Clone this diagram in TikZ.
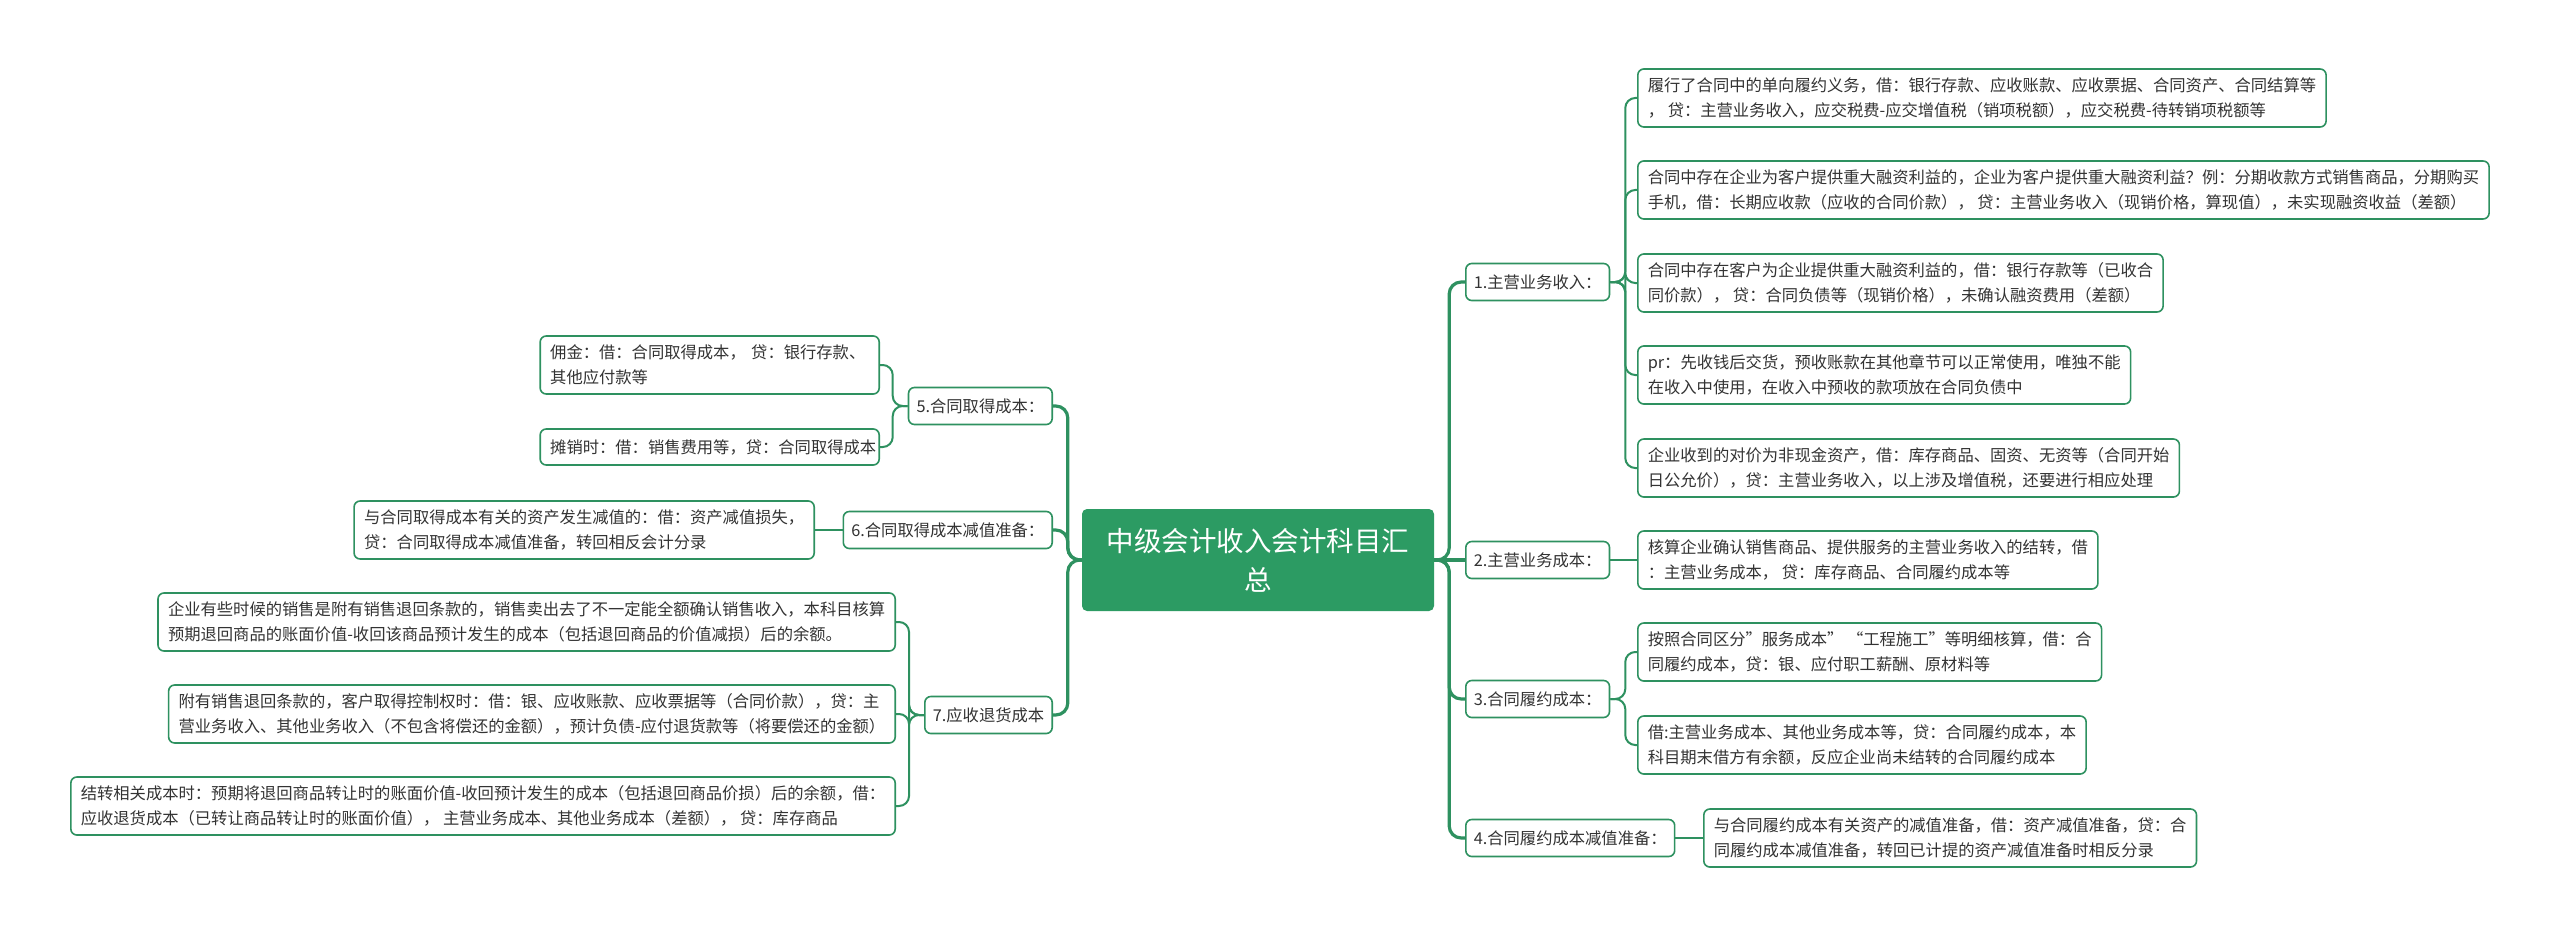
\documentclass[tikz,border=0pt]{standalone}
\usepackage{fontspec}
\setmainfont{Noto Sans CJK SC}
\usepackage{xcolor}
\definecolor{ckGreen}{HTML}{2E9160}
\definecolor{ckRoot}{HTML}{2C9B63}
\definecolor{ckInk}{HTML}{333333}

\begin{document}
\begin{tikzpicture}[x=1pt,y=-1pt,
  every node/.style={font=\fontsize{16.3}{24.5}\selectfont,text=ckInk},
  root/.style={fill=ckRoot,rounded corners=5pt,text=white,
    font=\fontsize{27.5}{39}\selectfont,align=center,
    minimum width=352pt,minimum height=102pt},
  topic/.style={draw=ckGreen,line width=1.6pt,rounded corners=6pt,fill=white,
    inner xsep=8pt,inner ysep=4pt,minimum height=37pt},
  leaf/.style={topic,align=left,inner xsep=10pt,minimum height=58pt},
  trunk/.style={draw=ckGreen,line width=3.2pt,rounded corners=12pt},
  twig/.style={draw=ckGreen,line width=2pt,rounded corners=10pt}]
  \fill[white] (0,0) rectangle (2560,936);
  \useasboundingbox (0,0) rectangle (2560,936);

  \node[root] (root) at (1258,560) {中级会计收入会计科目汇\\总};

  \node[topic,anchor=west] (t1) at (1465,282) {1.主营业务收入：};
  \node[topic,anchor=west] (t2) at (1465,560) {2.主营业务成本：};
  \node[topic,anchor=west] (t3) at (1465,699) {3.合同履约成本：};
  \node[topic,anchor=west] (t4) at (1465,838) {4.合同履约成本减值准备：};
  \node[topic,anchor=east] (t5) at (1053,406) {5.合同取得成本：};
  \node[topic,anchor=east] (t6) at (1053,530) {6.合同取得成本减值准备：};
  \node[topic,anchor=east] (t7) at (1053,715) {7.应收退货成本};

  \node[leaf,anchor=west] (r1a) at (1637,98)
    {履行了合同中的单向履约义务，借：银行存款、应收账款、应收票据、合同资产、合同结算等\\
     ， 贷：主营业务收入，应交税费-应交增值税（销项税额），应交税费-待转销项税额等};
  \node[leaf,anchor=west] (r1b) at (1637,190)
    {合同中存在企业为客户提供重大融资利益的，企业为客户提供重大融资利益？例：分期收款方式销售商品，分期购买\\
     手机，借：长期应收款（应收的合同价款）， 贷：主营业务收入（现销价格，算现值），未实现融资收益（差额）};
  \node[leaf,anchor=west] (r1c) at (1637,283)
    {合同中存在客户为企业提供重大融资利益的，借：银行存款等（已收合\\
     同价款）， 贷：合同负债等（现销价格），未确认融资费用（差额）};
  \node[leaf,anchor=west] (r1d) at (1637,375)
    {pr：先收钱后交货，预收账款在其他章节可以正常使用，唯独不能\\
     在收入中使用，在收入中预收的款项放在合同负债中};
  \node[leaf,anchor=west] (r1e) at (1637,468)
    {企业收到的对价为非现金资产，借：库存商品、固资、无资等（合同开始\\
     日公允价），贷：主营业务收入，以上涉及增值税，还要进行相应处理};
  \node[leaf,anchor=west] (r2) at (1637,560)
    {核算企业确认销售商品、提供服务的主营业务收入的结转，借\\
     ：主营业务成本， 贷：库存商品、合同履约成本等};
  \node[leaf,anchor=west] (r3a) at (1637,652)
    {按照合同区分"服务成本” “工程施工”等明细核算，借：合\\
     同履约成本，贷：银、应付职工薪酬、原材料等};
  \node[leaf,anchor=west] (r3b) at (1637,745)
    {借:主营业务成本、其他业务成本等，贷：合同履约成本，本\\
     科目期末借方有余额，反应企业尚未结转的合同履约成本};
  \node[leaf,anchor=west] (r4) at (1703,838)
    {与合同履约成本有关资产的减值准备，借：资产减值准备，贷：合\\
     同履约成本减值准备，转回已计提的资产减值准备时相反分录};

  \node[leaf,anchor=east,text width=319pt] (l5a) at (880,365)
    {佣金：借：合同取得成本， 贷：银行存款、\\
     其他应付款等};
  \node[leaf,anchor=east,text width=319pt,minimum height=36pt] (l5b) at (880,447)
    {摊销时：借：销售费用等，贷：合同取得成本};
  \node[leaf,anchor=east] (l6) at (815,530)
    {与合同取得成本有关的资产发生减值的：借：资产减值损失，\\
     贷：合同取得成本减值准备，转回相反会计分录};
  \node[leaf,anchor=east] (l7a) at (896,622)
    {企业有些时候的销售是附有销售退回条款的，销售卖出去了不一定能全额确认销售收入，本科目核算\\
     预期退回商品的账面价值-收回该商品预计发生的成本（包括退回商品的价值减损）后的余额。};
  \node[leaf,anchor=east] (l7b) at (896,714)
    {附有销售退回条款的，客户取得控制权时：借：银、应收账款、应收票据等（合同价款），贷：主\\
     营业务收入、其他业务收入（不包含将偿还的金额），预计负债-应付退货款等（将要偿还的金额）};
  \node[leaf,anchor=east] (l7c) at (896,806)
    {结转相关成本时：预期将退回商品转让时的账面价值-收回预计发生的成本（包括退回商品价损）后的余额，借：\\
     应收退货成本（已转让商品转让时的账面价值）， 主营业务成本、其他业务成本（差额）， 贷：库存商品};

  \foreach \t in {t1,t3,t4}
    \draw[trunk] (root.east) -- ++(15,0) |- (\t.west);
  \draw[trunk] (root.east) -- (t2.west);
  \foreach \t in {t5,t6,t7}
    \draw[trunk] (root.west) -- ++(-14,0) |- (\t.east);

  \foreach \l in {r1a,r1b,r1c,r1d,r1e}
    \draw[twig] (t1.east) -- ++(15,0) |- (\l.west);
  \draw[twig] (t2.east) -- (r2.west);
  \foreach \l in {r3a,r3b}
    \draw[twig] (t3.east) -- ++(15,0) |- (\l.west);
  \draw[twig] (t4.east) -- (r4.west);
  \foreach \l in {l5a,l5b}
    \draw[twig] (t5.west) -- ++(-15,0) |- (\l.east);
  \draw[twig] (t6.west) -- (l6.east);
  \foreach \l in {l7a,l7b,l7c}
    \draw[twig] (t7.west) -- ++(-15,0) |- (\l.east);
\end{tikzpicture}
\end{document}
